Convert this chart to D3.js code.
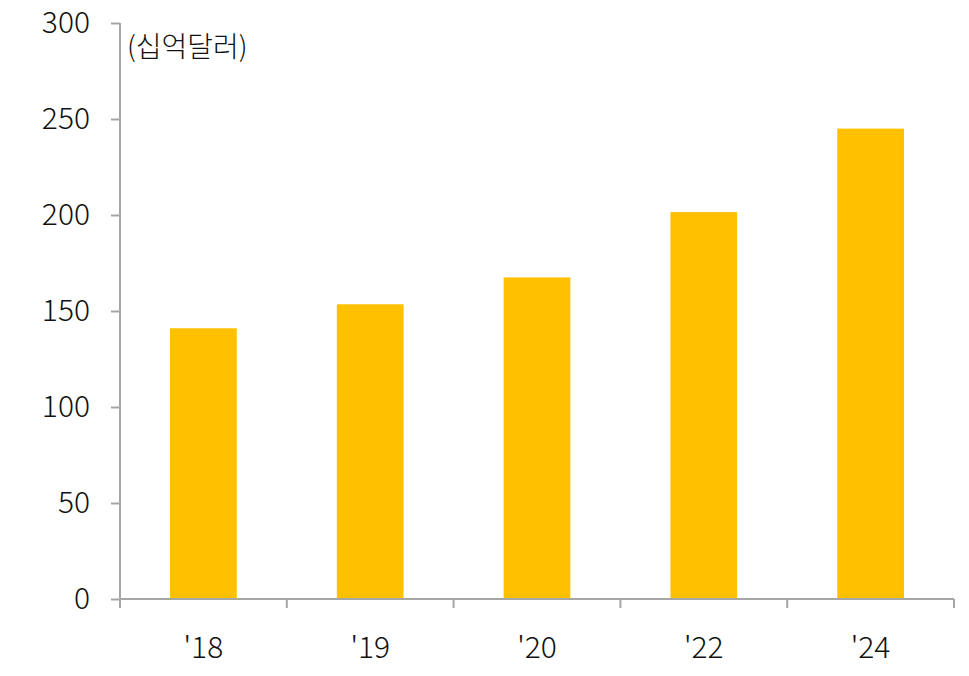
<!DOCTYPE html>
<html><head><meta charset="utf-8">
<script src="https://cdn.jsdelivr.net/npm/d3@7"></script>
<style>body{margin:0;background:#fff}svg text{font-family:"Noto Sans CJK KR","Noto Sans",sans-serif;fill:#111;font-weight:300}</style>
</head><body><svg id="c" width="969" height="676"></svg>
<script>
const categories = ["'18","'19","'20","'22","'24"];
const values = [141, 153.5, 167.5, 201.5, 245];
const yTicks = [0,50,100,150,200,250,300];
const unitLabel = "(십억달러)";

const svg = d3.select("#c");
const m = {left:120, right:15, top:23, bottom:77};
const W = 969, H = 676;
const x = d3.scaleBand().domain(categories).range([m.left, W-m.right]).paddingInner(0.6).paddingOuter(0.3);
const y = d3.scaleLinear().domain([0,300]).range([H-m.bottom, m.top]);

svg.append("g").selectAll("rect").data(values).join("rect")
  .attr("x",(d,i)=>x(categories[i])).attr("width",x.bandwidth())
  .attr("y",d=>y(d)).attr("height",d=>y(0)-y(d)).attr("fill","#FFC000");

const ya = svg.append("g").attr("transform",`translate(${m.left},0)`)
  .call(d3.axisLeft(y).tickValues(yTicks).tickSize(9).tickPadding(21));
const xa = svg.append("g").attr("transform",`translate(0,${y(0)})`)
  .call(d3.axisBottom(x).tickSize(0).tickPadding(38));
const bounds = d3.range(categories.length+1).map(i=>m.left + i*(W-m.right-m.left)/categories.length);
xa.selectAll(".bt").data(bounds).join("line").attr("class","bt")
  .attr("x1",d=>d).attr("x2",d=>d).attr("y1",0).attr("y2",9).attr("stroke","#a6a6a6").attr("stroke-width",2);
[ya,xa].forEach(a=>{a.select(".domain").attr("stroke","#a6a6a6").attr("stroke-width",2);
  a.selectAll(".tick line").attr("stroke","#a6a6a6").attr("stroke-width",2);
  a.selectAll("text").attr("font-size",30).attr("font-family","'Noto Sans CJK KR','Noto Sans',sans-serif").attr("font-weight",300).attr("fill","#111");});
ya.select(".domain").attr("d",`M0,${m.top}V${y(0)}`);
xa.select(".domain").attr("d",`M${m.left},0H${W-m.right}`);
svg.append("text").attr("x",127).attr("y",57).attr("font-size",28).text(unitLabel);
</script></body></html>
